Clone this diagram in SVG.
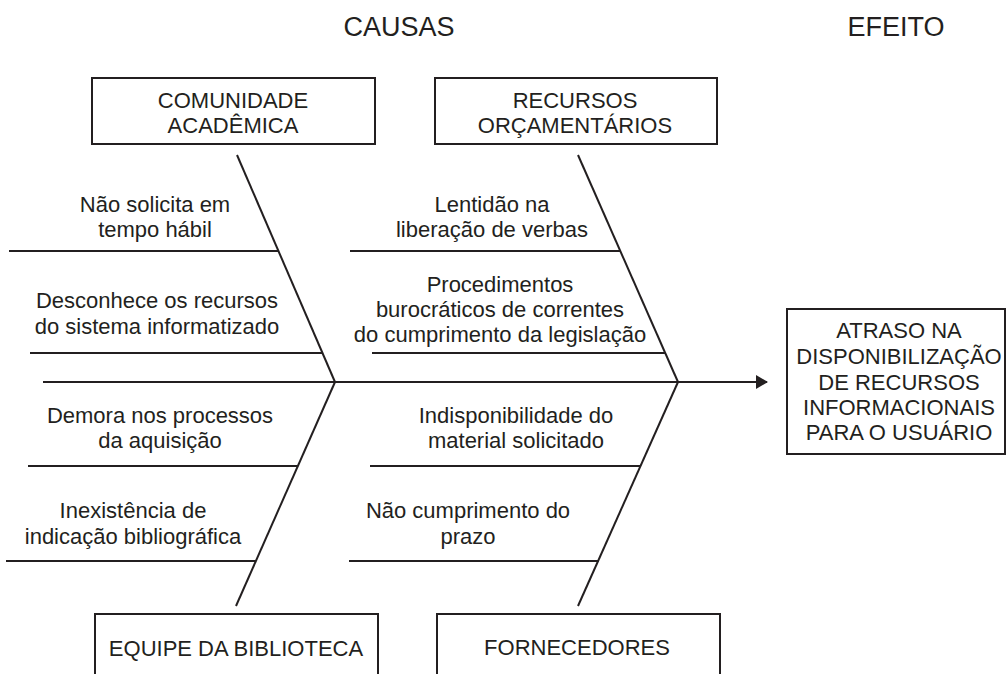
<svg xmlns="http://www.w3.org/2000/svg" width="1006" height="674" viewBox="0 0 1006 674">
<style>
text{font-family:"Liberation Sans",Arial,sans-serif;font-size:22px;fill:#231f20;text-anchor:middle}
.title{font-size:27px}
.box{fill:#fff;stroke:#231f20;stroke-width:2}
.ln{stroke:#231f20;stroke-width:2;fill:none}
</style>
<defs>
<marker id="arr" markerWidth="12" markerHeight="14" refX="11" refY="7" orient="auto" markerUnits="userSpaceOnUse">
<polygon points="0,0 12,7 0,14" fill="#231f20"/>
</marker>
</defs>
<rect width="1006" height="674" fill="#fff"/>
<g id="titles">
<text class="title" x="399" y="36">CAUSAS</text>
<text class="title" x="896" y="36">EFEITO</text>
</g>
<g id="connectors">
<line class="ln" x1="43" y1="382" x2="767" y2="382" marker-end="url(#arr)"/>
<line class="ln" x1="237" y1="155" x2="335" y2="382"/>
<line class="ln" x1="335" y1="382" x2="236" y2="606"/>
<line class="ln" x1="578" y1="155" x2="678" y2="382"/>
<line class="ln" x1="678" y1="382" x2="578" y2="606"/>
<line class="ln" x1="9" y1="251" x2="278" y2="251"/>
<line class="ln" x1="30" y1="353" x2="322" y2="353"/>
<line class="ln" x1="350" y1="251" x2="620" y2="251"/>
<line class="ln" x1="372" y1="353" x2="665" y2="353"/>
<line class="ln" x1="28" y1="466" x2="298" y2="466"/>
<line class="ln" x1="6" y1="561" x2="256" y2="561"/>
<line class="ln" x1="370" y1="466" x2="640" y2="466"/>
<line class="ln" x1="349" y1="561" x2="599" y2="561"/>
</g>
<g id="comunidade">
<rect class="box" x="92" y="78" width="283" height="66"/>
<text x="233" y="108">COMUNIDADE</text>
<text x="233" y="133">ACADÊMICA</text>
</g>
<g id="recursos">
<rect class="box" x="435" y="78" width="282" height="66"/>
<text x="575" y="108">RECURSOS</text>
<text x="575" y="133">ORÇAMENTÁRIOS</text>
</g>
<g id="equipe">
<rect class="box" x="95" y="614" width="283" height="70"/>
<text x="236" y="656">EQUIPE DA BIBLIOTECA</text>
</g>
<g id="fornecedores">
<rect class="box" x="437" y="614" width="283" height="70"/>
<text x="577" y="655">FORNECEDORES</text>
</g>
<g id="efeito">
<rect class="box" x="787" y="309" width="218" height="145"/>
<text x="899" y="338">ATRASO NA</text>
<text x="899" y="364">DISPONIBILIZAÇÃO</text>
<text x="899" y="390">DE RECURSOS</text>
<text x="899" y="415">INFORMACIONAIS</text>
<text x="899" y="440">PARA O USUÁRIO</text>
</g>
<g id="causa-nao-solicita">
<text x="155" y="212">Não solicita em</text>
<text x="155" y="237">tempo hábil</text>
</g>
<g id="causa-desconhece">
<text x="157" y="308">Desconhece os recursos</text>
<text x="157" y="334">do sistema informatizado</text>
</g>
<g id="causa-lentidao">
<text x="492" y="212">Lentidão na</text>
<text x="492" y="237">liberação de verbas</text>
</g>
<g id="causa-procedimentos">
<text x="500" y="292">Procedimentos</text>
<text x="500" y="317">burocráticos de correntes</text>
<text x="500" y="342">do cumprimento da legislação</text>
</g>
<g id="causa-demora">
<text x="160" y="423">Demora nos processos</text>
<text x="160" y="448">da aquisição</text>
</g>
<g id="causa-inexistencia">
<text x="133" y="518">Inexistência de</text>
<text x="133" y="544">indicação bibliográfica</text>
</g>
<g id="causa-indisponibilidade">
<text x="516" y="423">Indisponibilidade do</text>
<text x="516" y="448">material solicitado</text>
</g>
<g id="causa-nao-cumprimento">
<text x="468" y="518">Não cumprimento do</text>
<text x="468" y="544">prazo</text>
</g>
</svg>
